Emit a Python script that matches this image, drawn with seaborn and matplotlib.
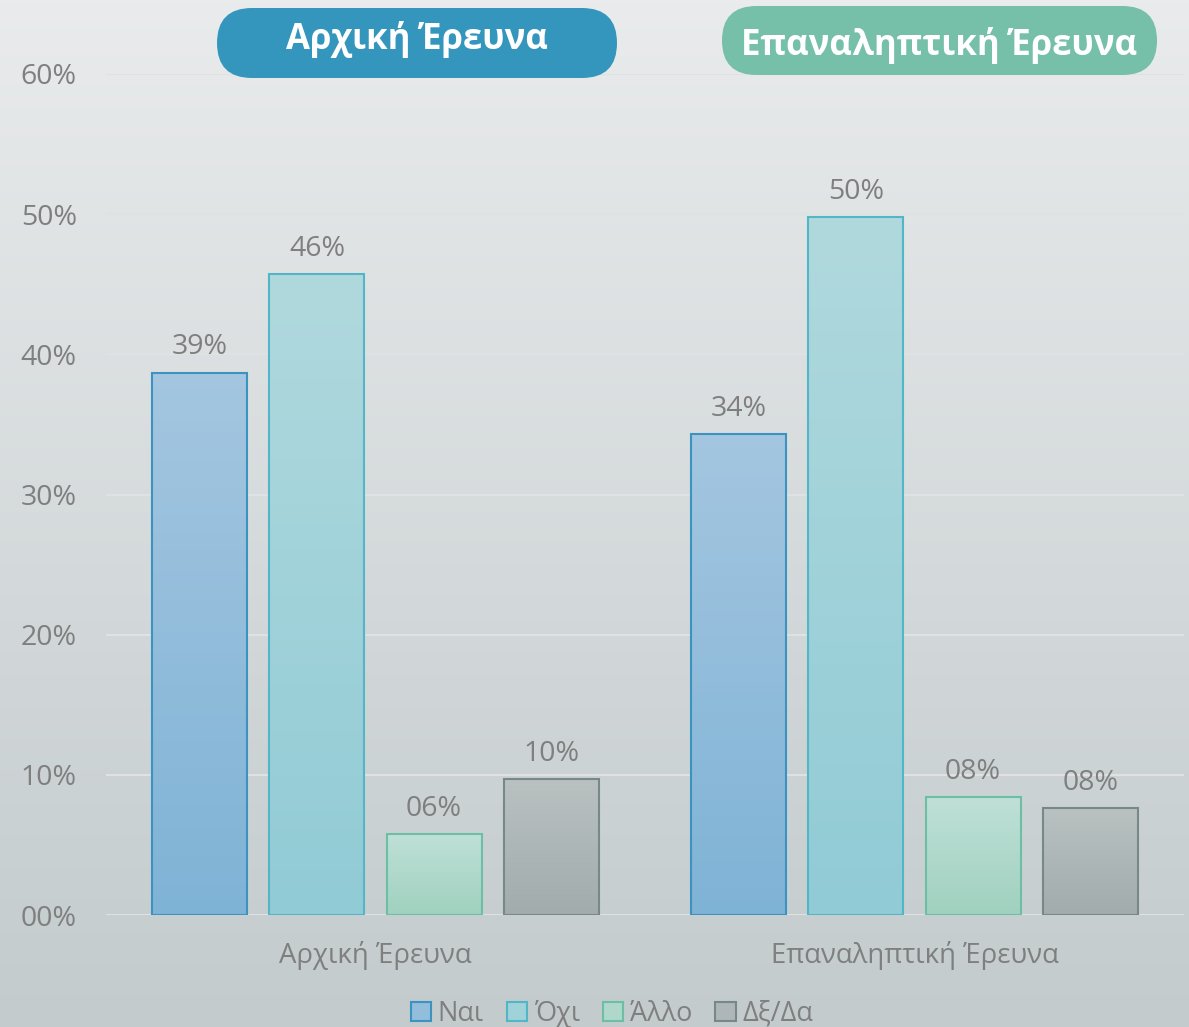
import numpy as np
import pandas as pd
import matplotlib
matplotlib.use("Agg")
import matplotlib.pyplot as plt
import seaborn as sns
from matplotlib.patches import FancyBboxPatch, Patch
from matplotlib.transforms import IdentityTransform

# ---- data ----
surveys = ["Αρχική Έρευνα", "Επαναληπτική Έρευνα"]
answers = ["Ναι", "Όχι", "Άλλο", "Δξ/Δα"]
vals_initial = [0.387, 0.457, 0.058, 0.097]
vals_repeat = [0.343, 0.498, 0.084, 0.076]
yticks = [0.0, 0.1, 0.2, 0.3, 0.4, 0.5, 0.6]

# ---- styles ----
top_cols = {"Ναι": "#a4c6e0", "Όχι": "#b0d9dd", "Άλλο": "#bfe0d7", "Δξ/Δα": "#b9c1c1"}
bot_cols = {"Ναι": "#7fb3d6", "Όχι": "#91cbd6", "Άλλο": "#a0d1bf", "Δξ/Δα": "#a2acad"}
edge_cols = {"Ναι": "#3a93c0", "Όχι": "#52b6c6", "Άλλο": "#6cbfa5", "Δξ/Δα": "#788888"}
mid_cols = {"Ναι": "#92bddb", "Όχι": "#a0d2da", "Άλλο": "#afd8cb", "Δξ/Δα": "#aeb6b7"}
gray = "#7f7f7f"
FS = 20.5

sns.set_theme(style="white")
plt.rcParams["font.family"] = ["Open Sans", "DejaVu Sans"]

W, H = 1189, 1027
fig = plt.figure(figsize=(W / 100, H / 100), dpi=100)

# background gradient
bg = fig.add_axes([0, 0, 1, 1], zorder=-10)
grad = np.linspace(0, 1, 256)[:, None, None]
c_top = np.array([233, 235, 236]) / 255
c_bot = np.array([195, 203, 205]) / 255
img = c_top * (1 - grad) + c_bot * grad
bg.imshow(img, aspect="auto", extent=[0, 1, 0, 1], origin="upper")
bg.axis("off")

ax = fig.add_axes([106 / W, 1 - 915 / H, (1184 - 106) / W, (915 - 74) / H])
ax.set_facecolor("none")

val_map = {surveys[0]: dict(zip(answers, vals_initial)), surveys[1]: dict(zip(answers, vals_repeat))}
df = pd.DataFrame({
    "survey": [s for a in answers for s in surveys],
    "answer": [a for a in answers for _ in surveys],
    "value": [val_map[s][a] for a in answers for s in surveys],
})

sns.barplot(data=df, x="survey", y="value", hue="answer", order=surveys, hue_order=answers,
            palette=mid_cols, width=0.87, gap=0.19, legend=False, ax=ax, zorder=3)

ax.set_ylim(0, 0.6)
ax.set_xlim(-0.5, 1.5)

# gradient fill for bars
for ans, cont in zip(answers, ax.containers):
    ct = np.array(matplotlib.colors.to_rgb(top_cols[ans]))
    cb = np.array(matplotlib.colors.to_rgb(bot_cols[ans]))
    for bar in cont:
        x0, y0 = bar.get_x(), bar.get_y()
        w, h = bar.get_width(), bar.get_height()
        g = np.linspace(0, 1, 128)[:, None, None]
        bimg = ct * (1 - g) + cb * g
        im = ax.imshow(bimg, aspect="auto", extent=[x0, x0 + w, y0, y0 + h], origin="upper", zorder=3)
        im.set_clip_path(bar)
        bar.set_facecolor("none")
        bar.set_edgecolor(edge_cols[ans])
        bar.set_linewidth(1.5)
        bar.set_zorder(4)
    ax.bar_label(cont, labels=[f"{v * 100:02.0f}%" for v in cont.datavalues],
                 padding=8, color=gray, fontsize=FS)

ax.set_ylim(0, 0.6)
ax.set_xlim(-0.5, 1.5)

ax.set_yticks(yticks)
ax.set_yticklabels([f"{t * 100:02.0f}%" for t in yticks])
ax.yaxis.grid(True, color="#dfe2e3", linewidth=1.5, zorder=0)
ax.set_axisbelow(True)
ax.tick_params(axis="y", length=0, pad=21, labelsize=FS, labelcolor=gray)
ax.tick_params(axis="x", length=0, pad=19, labelsize=19.8, labelcolor=gray)
ax.set_xlabel("")
ax.set_ylabel("")
for s in ax.spines.values():
    s.set_visible(False)

# legend
handles = [Patch(facecolor=mid_cols[a], edgecolor=edge_cols[a], linewidth=1.5, label=a) for a in answers]
fig.legend(handles=handles, loc="center", bbox_to_anchor=(612 / W, 1 - 1014 / H), ncol=4,
           frameon=False, fontsize=19.5, labelcolor=gray, handlelength=0.75, handleheight=0.75,
           handletextpad=0.25, columnspacing=0.85)

# title badges
idt = IdentityTransform()
for (x0, x1, ytop, ybot, ty), col, txt in [((217, 617, 8, 78, 39), "#3596bd", surveys[0]),
                                           ((722, 1157, 6, 75, 46), "#76bfa9", surveys[1])]:
    h = ybot - ytop
    badge = FancyBboxPatch((x0, H - ybot), x1 - x0, h,
                           boxstyle=f"round,pad=0,rounding_size={h / 2}",
                           facecolor=col, edgecolor="none", transform=idt, zorder=5)
    fig.patches.append(badge)
    fig.text((x0 + x1) / 2 / W, 1 - ty / H, txt, ha="center", va="center",
             color="white", fontsize=25, fontweight="bold", zorder=6)

fig.savefig("out.png", dpi=100)
